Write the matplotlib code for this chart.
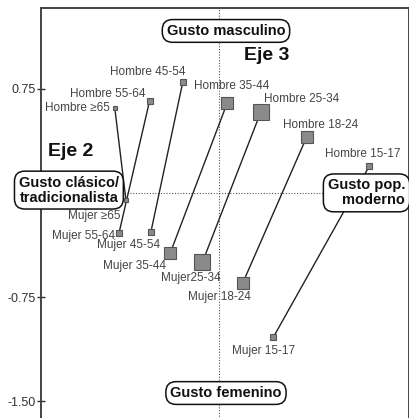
import matplotlib
matplotlib.use("Agg")
import matplotlib.pyplot as plt

# age groups and coordinates on the (Eje 2, Eje 3) plane
groups = ["≥65", "55-64", "45-54", "35-44", "25-34", "18-24", "15-17"]
hombre_x = [-0.75, -0.50, -0.26, 0.06, 0.30, 0.63, 1.08]
hombre_y = [0.61, 0.66, 0.80, 0.65, 0.58, 0.40, 0.19]
mujer_x = [-0.67, -0.72, -0.49, -0.35, -0.12, 0.17, 0.39]
mujer_y = [-0.05, -0.29, -0.28, -0.43, -0.50, -0.65, -1.04]
marker_size = [3, 4, 5, 8, 11, 8, 5]

hombre_labels = ["Hombre " + g for g in groups]
mujer_labels = ["Mujer " + g for g in groups]
mujer_labels[4] = "Mujer25-34"

# label offsets in pixels (dx, dy, ha)
hombre_off = [(-5, 0, "right"), (-4, 7, "right"), (3, 10, "right"), (4, 17, "center"),
              (3, 13, "left"), (14, 12, "center"), (-6, 12, "center")]
mujer_off = [(-32, -16, "center"), (-4, -3, "right"), (-22, -13, "center"), (-36, -13, "center"),
             (-12, -16, "center"), (-23, -14, "center"), (-10, -14, "center")]

plt.rcParams["font.family"] = ["Liberation Sans Narrow", "Liberation Sans", "DejaVu Sans"]

fig = plt.figure(figsize=(4.10, 4.18), dpi=100)
ax = fig.add_axes([41 / 410, -2 / 418, 368 / 410, 412 / 418])
ax.set_xlim(-1.281, 1.367)
ax.set_ylim(-1.634, 1.33)

ax.axhline(0, color="#555555", lw=0.8, ls=(0, (1, 1.5)), zorder=1)
ax.axvline(0, color="#555555", lw=0.8, ls=(0, (1, 1.5)), zorder=1)

for i in range(len(groups)):
    ax.plot([hombre_x[i], mujer_x[i]], [hombre_y[i], mujer_y[i]], color="#222222", lw=1.0, zorder=2)
    for x, y in [(hombre_x[i], hombre_y[i]), (mujer_x[i], mujer_y[i])]:
        ax.plot(x, y, marker="s", ms=marker_size[i], mfc="#8a8a8a", mec="#555555", mew=0.8, zorder=3)
    dx, dy, ha = hombre_off[i]
    ax.annotate(hombre_labels[i], (hombre_x[i], hombre_y[i]), xytext=(dx, dy), textcoords="offset pixels",
                ha=ha, va="center", fontsize=8.5, color="#444444", zorder=4)
    dx, dy, ha = mujer_off[i]
    ax.annotate(mujer_labels[i], (mujer_x[i], mujer_y[i]), xytext=(dx, dy), textcoords="offset pixels",
                ha=ha, va="center", fontsize=8.5, color="#444444", zorder=4)

box = dict(boxstyle="round,pad=0.3,rounding_size=0.7", fc="white", ec="#111111", lw=1.1)
bold = dict(fontsize=10.5, fontweight="bold", color="#111111", zorder=6, family=["Liberation Sans", "DejaVu Sans"])
ax.text(0.05, 1.165, "Gusto masculino", ha="center", va="center", bbox=box, **bold)
ax.text(-0.72, 0.02, "Gusto clásico/\ntradicionalista", ha="right", va="center", bbox=box,
        linespacing=1.1, **bold)
ax.text(1.34, 0.0, "Gusto pop.\nmoderno", ha="right", va="center", multialignment="right", bbox=box,
        linespacing=1.1, **bold)
ax.text(0.05, -1.44, "Gusto femenino", ha="center", va="center", bbox=box, **bold)
ax.text(0.345, 0.99, "Eje 3", ha="center", va="center", fontsize=14, fontweight="bold",
        color="#111111", family=["Liberation Sans", "DejaVu Sans"])
ax.text(-1.07, 0.295, "Eje 2", ha="center", va="center", fontsize=14, fontweight="bold",
        color="#111111", family=["Liberation Sans", "DejaVu Sans"])

ax.set_xticks([])
ax.set_yticks([0.75, -0.75, -1.50])
ax.set_yticklabels(["0.75", "-0.75", "-1.50"])
ax.tick_params(axis="y", direction="inout", length=6, width=1, colors="#333333", labelsize=9, pad=1)
for s in ax.spines.values():
    s.set_color("#444444")
    s.set_linewidth(1.4)

fig.savefig("out.png", dpi=100)
